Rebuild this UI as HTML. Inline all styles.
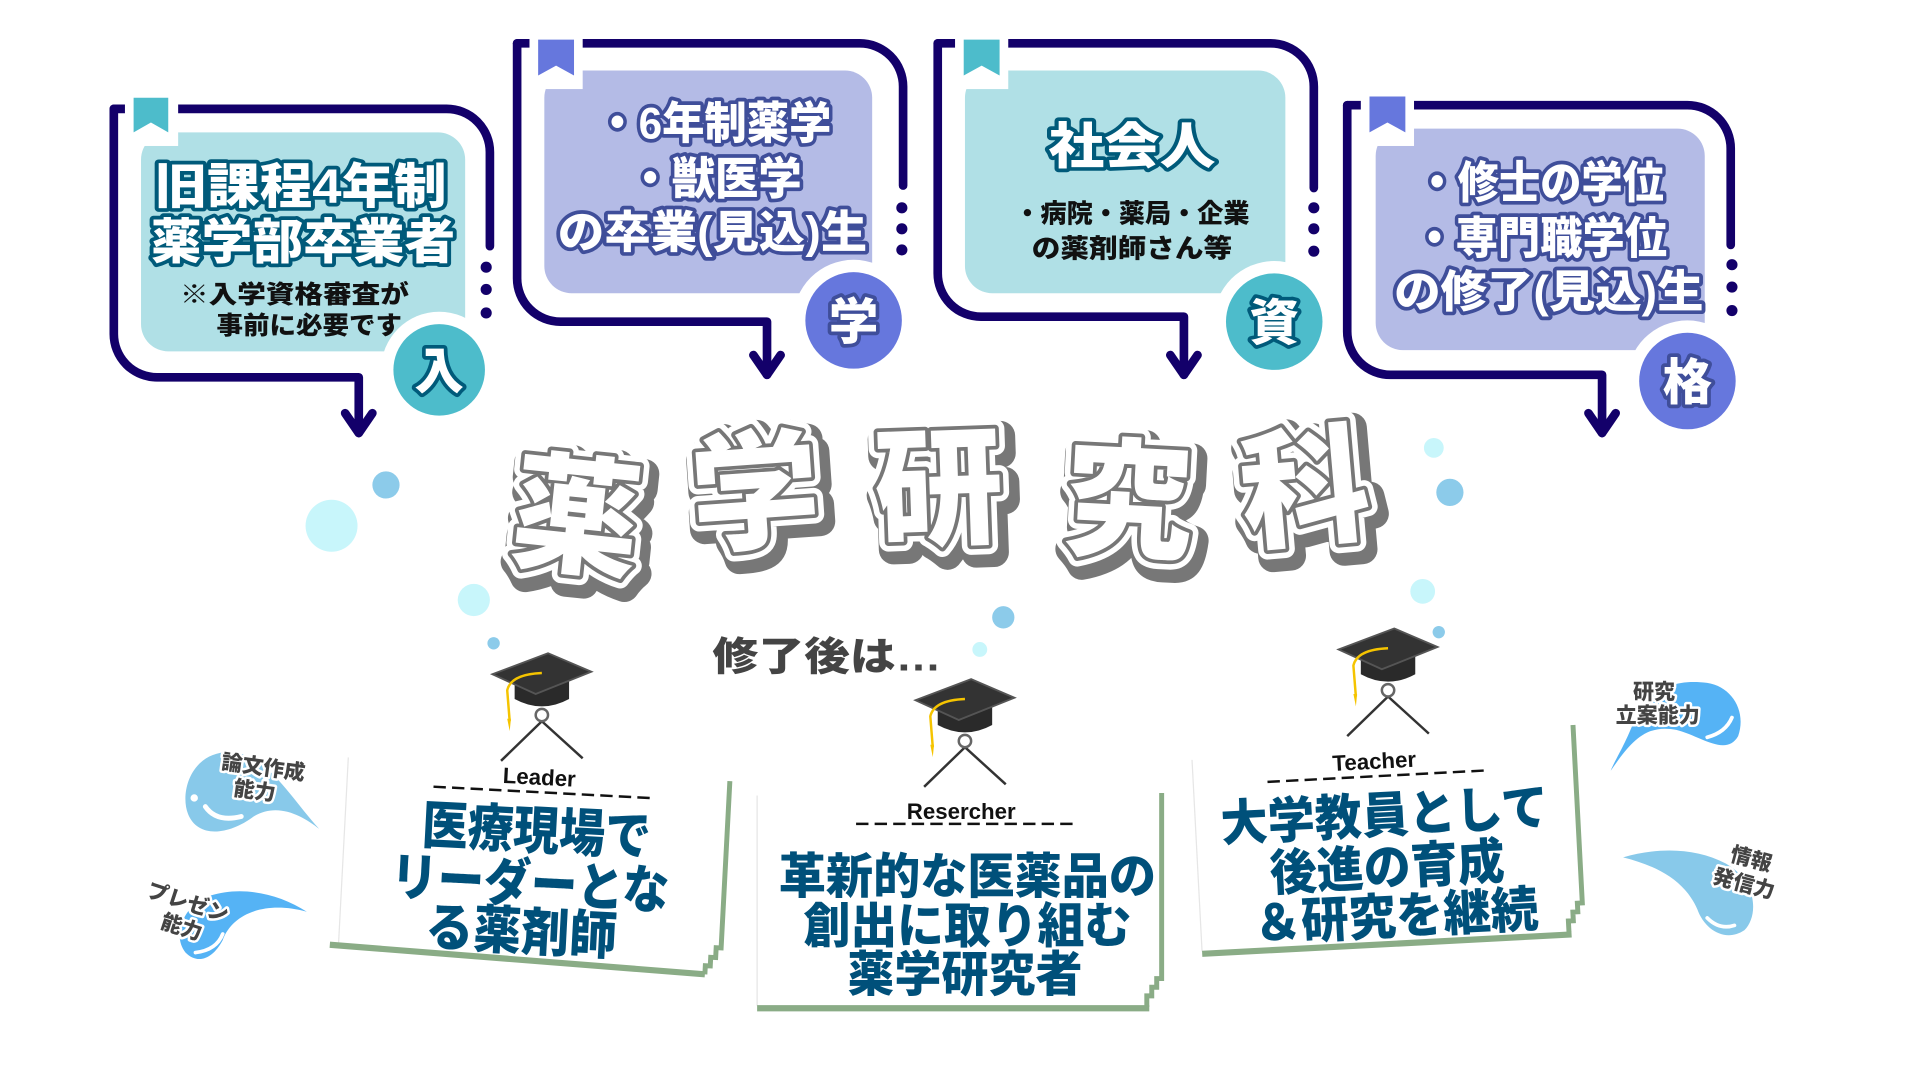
<!DOCTYPE html>
<html><head><meta charset="utf-8"><style>
html,body{margin:0;padding:0;background:#fff;overflow:hidden}
svg{display:block}
text{font-family:"Liberation Sans","Noto Sans CJK JP",sans-serif;font-weight:900}
.fr{fill:none;stroke:#13006a;stroke-width:7;stroke-linecap:round;stroke-linejoin:round}
.wt{fill:#fff;stroke:#005a7a;stroke-width:6;paint-order:stroke;stroke-linejoin:round}
.wp{fill:#fff;stroke:#3f4e9a;stroke-width:6;paint-order:stroke;stroke-linejoin:round}
.bk{fill:#111}
.cd{fill:#00507a}
.gl{fill:#444;stroke:#fff;stroke-width:4;paint-order:stroke;stroke-linejoin:round}
.t1{fill:none;stroke:#777;stroke-width:24;stroke-linejoin:round}
.t2{fill:none;stroke:#fff;stroke-width:15;stroke-linejoin:round}
.t3{fill:#fff;stroke:#777;stroke-width:6;stroke-linejoin:round;paint-order:stroke}
</style></head><body>
<svg width="1920" height="1080" viewBox="0 0 1552 873" preserveAspectRatio="none" xmlns="http://www.w3.org/2000/svg">
<defs>
<g id="cap">
  <line x1="0" y1="30" x2="-33" y2="62" stroke="#333" stroke-width="2"/>
  <line x1="0" y1="30" x2="33" y2="60" stroke="#333" stroke-width="2"/>
  <circle cx="0" cy="25" r="5" fill="none" stroke="#666" stroke-width="2"/>
  <path d="M-22 -5 L-22 12 Q0 24 22 12 L22 -5 Z" fill="#2a2a2a"/>
  <path d="M-40 -8 L5 -25 L40 -10 L-5 8 Z" fill="#333" stroke="#555" stroke-width="1.5"/>
  <path d="M0 -9 Q-25 -8 -28 5 L-26 30" fill="none" stroke="#f5c400" stroke-width="2"/>
  <path d="M-28 28 L-25 28 L-26 38 Z" fill="#f5c400"/>
</g>
</defs>

<!-- Box 1 -->
<rect x="114" y="107" width="262" height="177" rx="22" fill="#b0e0e6"/>
<path class="fr" d="M92 88 H361 A35 35 0 0 1 396 123 V199"/>
<path class="fr" d="M92 88 V270 A35 35 0 0 0 127 305 H290 V350"/>
<path class="fr" d="M279 334 L290 350 L301 334"/>
<circle cx="393" cy="216" r="4.5" fill="#13006a"/><circle cx="393" cy="234" r="4.5" fill="#13006a"/><circle cx="393" cy="253" r="4.5" fill="#13006a"/>
<circle cx="355" cy="299" r="47" fill="#fff"/><circle cx="355" cy="299" r="37" fill="#4dbccb"/>
<text x="355" y="314" font-size="40" text-anchor="middle" class="wt">入</text>
<rect x="101" y="71" width="43" height="47" fill="#fff"/><path d="M108 79 H136 V107 L122 99 L108 107 Z" fill="#4dbccb"/>
<text x="243" y="164" font-size="39" text-anchor="middle" class="wt" textLength="236" lengthAdjust="spacingAndGlyphs">旧課程4年制</text>
<text x="245" y="209" font-size="39" text-anchor="middle" class="wt" textLength="246" lengthAdjust="spacingAndGlyphs">薬学部卒業者</text>
<text x="238" y="245" font-size="20" text-anchor="middle" class="bk" textLength="185" lengthAdjust="spacingAndGlyphs">※入学資格審査が</text>
<text x="250" y="270" font-size="20" text-anchor="middle" class="bk" textLength="150" lengthAdjust="spacingAndGlyphs">事前に必要です</text>

<!-- Box 2 -->
<rect x="440" y="57" width="265" height="180" rx="22" fill="#b4bbe6"/>
<path class="fr" d="M418 35 H695 A35 35 0 0 1 730 70 V150"/>
<path class="fr" d="M418 35 V225 A35 35 0 0 0 453 260 H620 V303"/>
<path class="fr" d="M609 287 L620 303 L631 287"/>
<circle cx="729" cy="168" r="4.5" fill="#13006a"/><circle cx="729" cy="185" r="4.5" fill="#13006a"/><circle cx="729" cy="202" r="4.5" fill="#13006a"/>
<circle cx="690" cy="259" r="49" fill="#fff"/><circle cx="690" cy="259" r="39" fill="#6677dd"/>
<text x="690" y="274" font-size="40" text-anchor="middle" class="wp">学</text>
<rect x="428" y="25" width="43" height="47" fill="#fff"/><path d="M435 32 H464 V61 L449.5 53 L435 61 Z" fill="#6677dd"/>
<text x="577" y="112" font-size="36" text-anchor="middle" class="wp" textLength="190" lengthAdjust="spacingAndGlyphs">・6年制薬学</text>
<text x="578" y="157" font-size="36" text-anchor="middle" class="wp" textLength="140" lengthAdjust="spacingAndGlyphs">・獣医学</text>
<text x="576" y="200" font-size="36" text-anchor="middle" class="wp" textLength="250" lengthAdjust="spacingAndGlyphs">の卒業(見込)生</text>

<!-- Box 3 -->
<rect x="780" y="57" width="259" height="180" rx="22" fill="#b0e0e6"/>
<path class="fr" d="M758 35 H1027 A35 35 0 0 1 1062 70 V152"/>
<path class="fr" d="M758 35 V221 A35 35 0 0 0 793 256 H957 V303"/>
<path class="fr" d="M946 287 L957 303 L968 287"/>
<circle cx="1062" cy="168" r="4.5" fill="#13006a"/><circle cx="1062" cy="185" r="4.5" fill="#13006a"/><circle cx="1062" cy="203" r="4.5" fill="#13006a"/>
<circle cx="1030" cy="260" r="49" fill="#fff"/><circle cx="1030" cy="260" r="39" fill="#4dbccb"/>
<text x="1030" y="275" font-size="40" text-anchor="middle" class="wt">資</text>
<rect x="772" y="25" width="43" height="47" fill="#fff"/><path d="M779 32 H808 V61 L793.5 53 L779 61 Z" fill="#4dbccb"/>
<text x="915" y="132" font-size="40" text-anchor="middle" class="wt" textLength="135" lengthAdjust="spacingAndGlyphs">社会人</text>
<text x="915" y="180" font-size="21" text-anchor="middle" class="bk" textLength="190" lengthAdjust="spacingAndGlyphs">・病院・薬局・企業</text>
<text x="915" y="208" font-size="21" text-anchor="middle" class="bk" textLength="162" lengthAdjust="spacingAndGlyphs">の薬剤師さん等</text>

<!-- Box 4 -->
<rect x="1112" y="104" width="266" height="179" rx="22" fill="#b4bbe6"/>
<path class="fr" d="M1089 85 H1364 A35 35 0 0 1 1399 120 V198"/>
<path class="fr" d="M1089 85 V268 A35 35 0 0 0 1124 303 H1295 V350"/>
<path class="fr" d="M1284 334 L1295 350 L1306 334"/>
<circle cx="1400" cy="214" r="4.5" fill="#13006a"/><circle cx="1400" cy="232" r="4.5" fill="#13006a"/><circle cx="1400" cy="251" r="4.5" fill="#13006a"/>
<circle cx="1364" cy="308" r="49" fill="#fff"/><circle cx="1364" cy="308" r="39" fill="#6677dd"/>
<text x="1364" y="323" font-size="40" text-anchor="middle" class="wp">格</text>
<rect x="1100" y="71" width="43" height="47" fill="#fff"/><path d="M1107 78 H1136 V107 L1121.5 99 L1107 107 Z" fill="#6677dd"/>
<text x="1245" y="160" font-size="36" text-anchor="middle" class="wp" textLength="200" lengthAdjust="spacingAndGlyphs">・修士の学位</text>
<text x="1245" y="205" font-size="36" text-anchor="middle" class="wp" textLength="205" lengthAdjust="spacingAndGlyphs">・専門職学位</text>
<text x="1252" y="248" font-size="36" text-anchor="middle" class="wp" textLength="250" lengthAdjust="spacingAndGlyphs">の修了(見込)生</text>

<!-- Title -->
<g font-size="104" text-anchor="middle">
  <g transform="translate(462,455) rotate(6)"><text class="t1" x="4" y="6">薬</text><text class="t2">薬</text><text class="t3">薬</text></g>
  <g transform="translate(613,435) rotate(-4)"><text class="t1" x="4" y="6">学</text><text class="t2">学</text><text class="t3">学</text></g>
  <g transform="translate(760,432) rotate(-2)"><text class="t1" x="4" y="6">研</text><text class="t2">研</text><text class="t3">研</text></g>
  <g transform="translate(910,442) rotate(3)"><text class="t1" x="4" y="6">究</text><text class="t2">究</text><text class="t3">究</text></g>
  <g transform="translate(1058,432) rotate(-5)"><text class="t1" x="4" y="6">科</text><text class="t2">科</text><text class="t3">科</text></g>
</g>

<!-- Bubbles -->
<ellipse cx="312" cy="392" rx="11" ry="11" fill="#8ccbea"/>
<ellipse cx="268" cy="425" rx="21" ry="21" fill="#c8f6fb"/>
<ellipse cx="383" cy="485" rx="13" ry="13" fill="#c8f6fb"/>
<ellipse cx="399" cy="520" rx="5" ry="5" fill="#8ccbea"/>
<ellipse cx="1159" cy="362" rx="8" ry="8" fill="#c8f6fb"/>
<ellipse cx="1172" cy="398" rx="11" ry="11" fill="#8ccbea"/>
<ellipse cx="811" cy="499" rx="9" ry="9" fill="#8ccbea"/>
<ellipse cx="792" cy="525" rx="6" ry="6" fill="#c8f6fb"/>
<ellipse cx="1150" cy="478" rx="10" ry="10" fill="#c8f6fb"/>
<ellipse cx="1163" cy="511" rx="5" ry="5" fill="#8ccbea"/>

<text x="576" y="542" font-size="32" class="gl" textLength="185" lengthAdjust="spacingAndGlyphs">修了後は…</text>

<!-- Caps -->
<use href="#cap" transform="translate(438,553)"/>
<use href="#cap" transform="translate(780,574)"/>
<use href="#cap" transform="translate(1122,533)"/>

<!-- Card 1 -->
<g transform="translate(-8,-2) rotate(3 435 705)">
  <rect x="285" y="622" width="310" height="150" fill="#fff"/>
  <line x1="285" y1="622" x2="285" y2="772" stroke="#e6e6e6" stroke-width="1"/>
  <path d="M594 625 V760 H590 V768 H586 V775 H582 V782" fill="none" stroke="#8aac86" stroke-width="4"/>
  <line x1="278" y1="774" x2="582" y2="782" stroke="#8aac86" stroke-width="5"/>
  <text x="440" y="636" font-size="18" text-anchor="middle" style="font-weight:700" fill="#111">Leader</text>
  <line x1="355" y1="642" x2="530" y2="642" stroke="#111" stroke-width="2" stroke-dasharray="10 5"/>
  <text x="440" y="688" font-size="42" text-anchor="middle" class="cd" textLength="185" lengthAdjust="spacingAndGlyphs">医療現場で</text>
  <text x="437" y="731" font-size="42" text-anchor="middle" class="cd" textLength="225" lengthAdjust="spacingAndGlyphs">リーダーとな</text>
  <text x="432" y="770" font-size="42" text-anchor="middle" class="cd" textLength="155" lengthAdjust="spacingAndGlyphs">る薬剤師</text>
</g>

<!-- Card 2 -->
<g transform="translate(-5,-4)">
<rect x="617" y="647" width="327" height="170" fill="#fff"/>
<line x1="617" y1="647" x2="617" y2="817" stroke="#e6e6e6" stroke-width="1"/>
<path d="M944 645 V795 H940 V802 H936 V809 H932 V818" fill="none" stroke="#8aac86" stroke-width="4"/>
<line x1="617" y1="819" x2="934" y2="819" stroke="#8aac86" stroke-width="5"/>
<text x="782" y="666" font-size="18" text-anchor="middle" style="font-weight:700" fill="#111">Resercher</text>
<line x1="697" y1="670" x2="877" y2="670" stroke="#111" stroke-width="2" stroke-dasharray="10 5"/>
<text x="787" y="726" font-size="39" text-anchor="middle" class="cd" textLength="305" lengthAdjust="spacingAndGlyphs">革新的な医薬品の</text>
<text x="787" y="766" font-size="39" text-anchor="middle" class="cd" textLength="265" lengthAdjust="spacingAndGlyphs">創出に取り組む</text>
<text x="785" y="805" font-size="39" text-anchor="middle" class="cd" textLength="190" lengthAdjust="spacingAndGlyphs">薬学研究者</text>
</g>

<!-- Card 3 -->
<g transform="translate(-8,-4) rotate(-3 1130 680)">
  <rect x="975" y="610" width="310" height="155" fill="#fff"/>
  <line x1="975" y1="610" x2="975" y2="765" stroke="#e6e6e6" stroke-width="1"/>
  <path d="M1284 598 V742 H1280 V749 H1276 V756 H1272 V765" fill="none" stroke="#8aac86" stroke-width="4"/>
  <line x1="975" y1="767" x2="1274" y2="767" stroke="#8aac86" stroke-width="5"/>
  <text x="1122" y="625" font-size="18" text-anchor="middle" style="font-weight:700" fill="#111">Teacher</text>
  <line x1="1035" y1="631" x2="1215" y2="631" stroke="#111" stroke-width="2" stroke-dasharray="10 5"/>
  <text x="1128" y="677" font-size="40" text-anchor="middle" class="cd" textLength="265" lengthAdjust="spacingAndGlyphs">大学教員として</text>
  <text x="1128" y="719" font-size="40" text-anchor="middle" class="cd" textLength="190" lengthAdjust="spacingAndGlyphs">後進の育成</text>
  <text x="1133" y="759" font-size="40" text-anchor="middle" class="cd" textLength="230" lengthAdjust="spacingAndGlyphs">＆研究を継続</text>
</g>

<!-- Drops -->
<path d="M258 670 C235 645 215 608 185 608 C155 608 145 640 152 658 C160 678 185 675 205 660 C225 648 245 660 258 670 Z" fill="#88c9ea"/>
<path d="M166 652 Q175 665 195 660" fill="none" stroke="#fff" stroke-width="4" stroke-linecap="round"/>
<circle cx="157" cy="645" r="3" fill="#fff"/>
<text x="212" y="626" font-size="17" class="gl" text-anchor="middle" transform="rotate(8 212 626)">論文作成</text>
<text x="205" y="645" font-size="17" class="gl" text-anchor="middle" transform="rotate(8 205 645)">能力</text>

<path d="M248 737 C215 728 188 738 180 760 C172 775 160 780 150 770 C138 755 150 730 170 724 C195 716 225 722 248 737 Z" fill="#55b3f5"/>
<path d="M158 770 Q175 768 180 755" fill="none" stroke="#fff" stroke-width="3" stroke-linecap="round"/>
<text x="150" y="735" font-size="17" class="gl" text-anchor="middle" transform="rotate(18 150 735)">プレゼン</text>
<text x="145" y="755" font-size="17" class="gl" text-anchor="middle" transform="rotate(18 145 755)">能力</text>

<path d="M1302 623 C1318 600 1330 585 1355 590 C1375 595 1395 612 1405 595 C1412 575 1400 555 1380 552 C1350 548 1330 560 1320 585 C1312 605 1305 615 1302 623 Z" fill="#55b3f5"/>
<path d="M1380 596 Q1395 592 1400 580" fill="none" stroke="#fff" stroke-width="3" stroke-linecap="round"/>
<text x="1337" y="565" font-size="17" class="gl" text-anchor="middle">研究</text>
<text x="1340" y="584" font-size="17" class="gl" text-anchor="middle">立案能力</text>

<path d="M1312 693 C1340 685 1370 685 1395 698 C1420 712 1422 740 1410 752 C1395 762 1378 752 1372 735 C1362 712 1340 700 1312 693 Z" fill="#88c9ea"/>
<path d="M1380 742 Q1390 752 1402 748" fill="none" stroke="#fff" stroke-width="3" stroke-linecap="round"/>
<text x="1414" y="700" font-size="17" class="gl" text-anchor="middle" transform="rotate(15 1414 700)">情報</text>
<text x="1408" y="720" font-size="17" class="gl" text-anchor="middle" transform="rotate(15 1408 720)">発信力</text>
</svg>
</body></html>
